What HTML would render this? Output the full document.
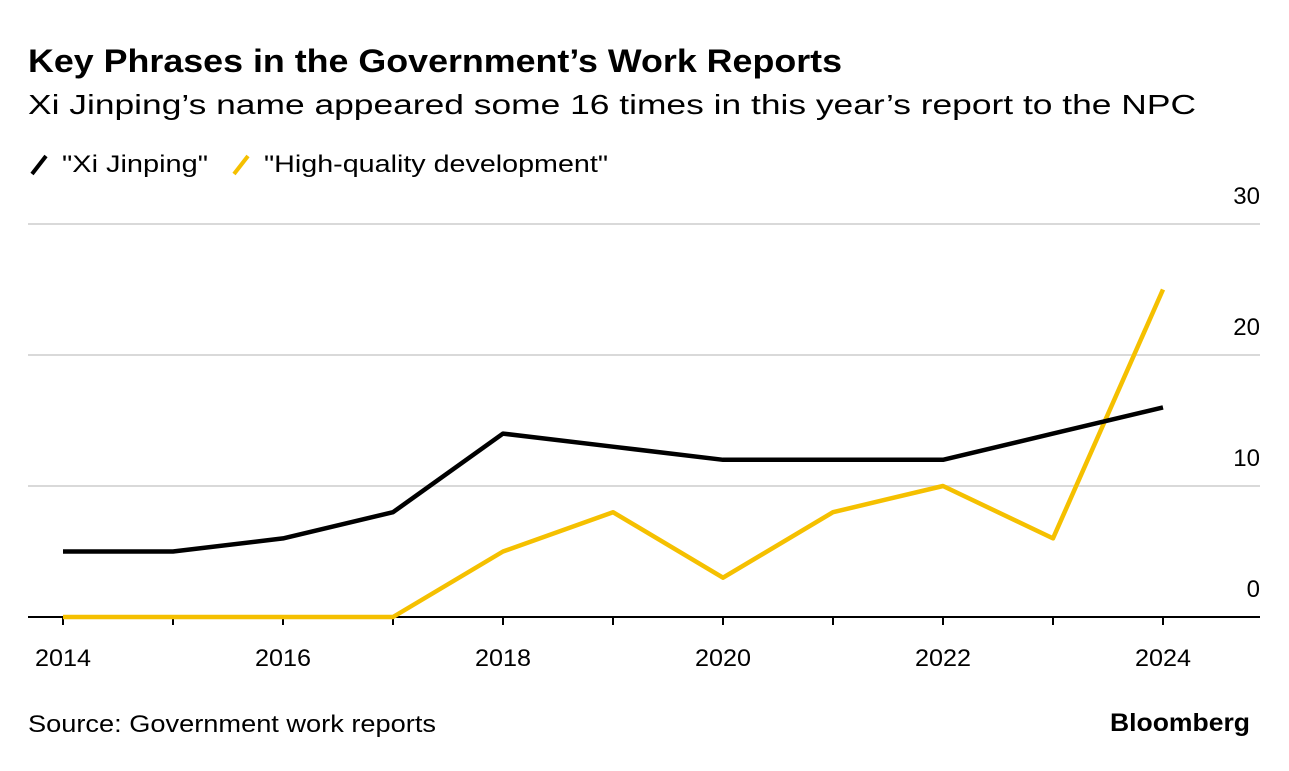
<!DOCTYPE html>
<html><head><meta charset="utf-8"><style>
body{margin:0;background:#fff;font-family:"Liberation Sans",sans-serif;}
</style></head><body>
<svg width="1289" height="766" xmlns="http://www.w3.org/2000/svg" font-family="Liberation Sans, sans-serif">
<text x="28" y="72" font-size="32" font-weight="bold" fill="#000" textLength="814" lengthAdjust="spacingAndGlyphs">Key Phrases in the Government’s Work Reports</text>
<text x="28" y="114" font-size="28" fill="#000" textLength="1168" lengthAdjust="spacingAndGlyphs">Xi Jinping’s name appeared some 16 times in this year’s report to the NPC</text>
<g>
<line x1="32" y1="174" x2="46" y2="156" stroke="#000" stroke-width="4"/>
<text x="62" y="172" font-size="24" textLength="146" lengthAdjust="spacingAndGlyphs">"Xi Jinping"</text>
<line x1="234" y1="174" x2="248" y2="156" stroke="#f5c000" stroke-width="4"/>
<text x="264" y="172" font-size="24" textLength="344" lengthAdjust="spacingAndGlyphs">"High-quality development"</text>
</g>
<g id="grid"></g>
<g id="lines"></g>
<text x="28" y="732" font-size="24" textLength="408" lengthAdjust="spacingAndGlyphs">Source: Government work reports</text>
<text x="1110" y="731" font-size="25" font-weight="bold" textLength="140" lengthAdjust="spacingAndGlyphs">Bloomberg</text>
</svg>
<script>
const years=[2014,2015,2016,2017,2018,2019,2020,2021,2022,2023,2024];
const xiJinping=[5,5,6,8,14,13,12,12,12,14,16];
const highQuality=[0,0,0,0,5,8,3,8,10,6,25];
const yTicks=[0,10,20,30];
const xTicks=[2014,2016,2018,2020,2022,2024];
const NS="http://www.w3.org/2000/svg";
const x=v=>63+(v-2014)*110;
const y=v=>617-v*13.1;
const grid=document.getElementById('grid'),lines=document.getElementById('lines');
function mk(tag,attrs,parent){const e=document.createElementNS(NS,tag);for(const k in attrs)e.setAttribute(k,attrs[k]);parent.appendChild(e);return e;}
yTicks.forEach(t=>{
  if(t>0){const l=mk('line',{x1:28,x2:1260,y1:y(t),y2:y(t),stroke:'#d9d9d9','stroke-width':2},grid);
  
  }
  const tx=mk('text',{x:1260,y:y(t)-20,'font-size':24,'text-anchor':'end'},grid);tx.textContent=t;
  
  
});
const ax=mk('line',{x1:28,x2:1260,y1:y(0),y2:y(0),stroke:'#000','stroke-width':2},grid);


years.forEach(t=>{const tk=mk('line',{x1:x(t),x2:x(t),y1:y(0),y2:y(0)+8,stroke:'#000','stroke-width':2},grid);

});
xTicks.forEach(t=>{const tx=mk('text',{x:x(t)-28,y:666,'font-size':24,textLength:56,lengthAdjust:'spacingAndGlyphs'},grid);tx.textContent=t;

});
function series(vals,color,name){
  const p=mk('polyline',{points:vals.map((v,i)=>x(years[i])+','+y(v)).join(' '),fill:'none',stroke:color,'stroke-width':4.5,'stroke-linejoin':'round'},lines);
  
  
}
series(highQuality,'#f5c000','high-quality-development-line');
series(xiJinping,'#000','xi-jinping-line');
</script>
</body></html>
